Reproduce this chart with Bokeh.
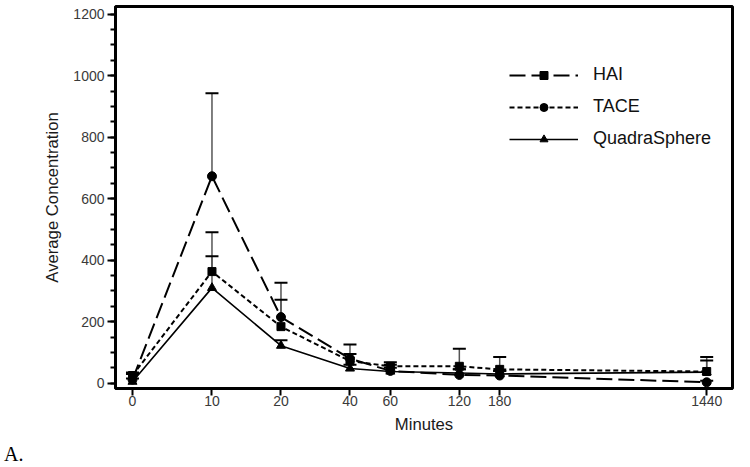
from bokeh.plotting import figure
from bokeh.layouts import column
from bokeh.models import (Range1d, FixedTicker, SingleIntervalTicker, ColumnDataSource,
                          Whisker, TeeHead, Legend, LegendItem, Div)
from bokeh.embed import file_html
from bokeh.resources import INLINE

# ---- data ----
minutes = [0, 10, 20, 40, 60, 120, 180, 1440]
tick_labels = ["0", "10", "20", "40", "60", "120", "180", "1440"]

hai = [12, 673, 215, 80, 40, 27, 25, 3]
hai_sd = [18, 270, 112, 46, 20, 18, 15, 5]

tace = [25, 363, 184, 72, 55, 55, 45, 38]
tace_sd = [10, 128, 87, 23, 13, 57, 40, 47]

quadra = [5, 310, 122, 48, 38, 33, 30, 36]
quadra_sd = [10, 103, 18, 12, 12, 12, 10, 38]

# ---- layout constants ----
ZERO_AT = 4.5  # where "0" sits on the log axis
x_plot = [m if m > 0 else ZERO_AT for m in minutes]

FONT = "Liberation Sans"

p = figure(width=734, height=440, x_axis_type="log",
           x_range=Range1d(3.794, 1866), y_range=Range1d(-17.2, 1225),
           output_backend="svg", toolbar_location=None,
           min_border_left=115, min_border_right=2, min_border_top=6, min_border_bottom=52)

p.xgrid.visible = False
p.ygrid.visible = False
p.outline_line_color = "black"
p.outline_line_width = 3
p.outline_line_alpha = 1.0
p.background_fill_color = "white"
p.border_fill_color = "white"

# axes
p.yaxis.ticker = SingleIntervalTicker(interval=200, num_minor_ticks=4)
p.xaxis.ticker = FixedTicker(ticks=x_plot, minor_ticks=[])
p.xaxis.major_label_overrides = {float(x): lab for x, lab in zip(x_plot, tick_labels)}

for ax in (p.xaxis[0], p.yaxis[0]):
    ax.axis_line_color = "black"
    ax.axis_line_width = 3
    ax.major_tick_line_color = "black"
    ax.major_tick_line_width = 2
    ax.minor_tick_line_color = "black"
    ax.minor_tick_line_width = 2
    ax.major_tick_in = 0
    ax.minor_tick_in = 0
    ax.major_label_text_font = FONT
    ax.major_label_text_font_size = "14px"
    ax.major_label_text_color = "#3a3a3a"
    ax.axis_label_text_font = FONT
    ax.axis_label_text_font_size = "16.7px"
    ax.axis_label_text_font_style = "normal"
    ax.axis_label_text_color = "#1a1a1a"

p.yaxis.major_tick_out = 8
p.yaxis.minor_tick_out = 5
p.yaxis.major_label_standoff = 3
p.yaxis.axis_label_standoff = 8
p.yaxis.axis_label = "Average Concentration"

p.xaxis.major_tick_out = 7
p.xaxis.minor_tick_out = 0
p.xaxis.major_label_standoff = 0
p.xaxis.axis_label_standoff = 6
p.xaxis.axis_label = "Minutes"

# error bars (upper only)
def add_err(vals, sds):
    src = ColumnDataSource(dict(x=x_plot, lo=vals, up=[v + s for v, s in zip(vals, sds)]))
    w = Whisker(base="x", lower="lo", upper="up", source=src, dimension="height",
                line_color="#555555", line_width=1.5,
                upper_head=TeeHead(size=13, line_width=2, line_color="black"),
                lower_head=None)
    p.add_layout(w)

add_err(hai, hai_sd)
add_err(tace, tace_sd)
add_err(quadra, quadra_sd)

# lines
hai_line = p.line(x_plot, hai, line_color="black", line_width=2, line_dash="16 6")
tace_line = p.line(x_plot, tace, line_color="black", line_width=2, line_dash="5 3")
quadra_line = p.line(x_plot, quadra, line_color="black", line_width=1.6)

# markers as drawn in the plot
p.scatter(x_plot, hai, marker="circle", size=9, color="black")
p.scatter(x_plot, tace, marker="square", size=8, color="black")
p.scatter(x_plot, quadra, marker="triangle", size=9, color="black")

# legend-only markers (as drawn in the legend), hidden in the plot
hai_leg = p.scatter(x_plot, hai, marker="square", size=8, color="black", visible=False)
tace_leg = p.scatter(x_plot, tace, marker="circle", size=9, color="black", visible=False)
quadra_leg = p.scatter(x_plot, quadra, marker="triangle", size=9, color="black", visible=False)

legend = Legend(items=[
    LegendItem(label="HAI", renderers=[hai_line, hai_leg]),
    LegendItem(label="TACE", renderers=[tace_line, tace_leg]),
    LegendItem(label="QuadraSphere", renderers=[quadra_line, quadra_leg]),
], location=(394, 239), border_line_color=None, background_fill_alpha=0,
   label_text_font=FONT, label_text_font_size="18px", label_text_color="#111111",
   glyph_width=69, glyph_height=20, label_height=20, label_standoff=15,
   spacing=11, padding=0, margin=0, inactive_fill_alpha=0)
p.add_layout(legend)

caption = Div(text='<span style="font-family: \'Liberation Serif\'; font-size: 20px; color: black;">A.</span>',
              width=60, height=11, margin=(0, 0, 0, 4))

layout = column(p, caption, spacing=0)

open("out.html", "w").write(file_html(layout, INLINE))
